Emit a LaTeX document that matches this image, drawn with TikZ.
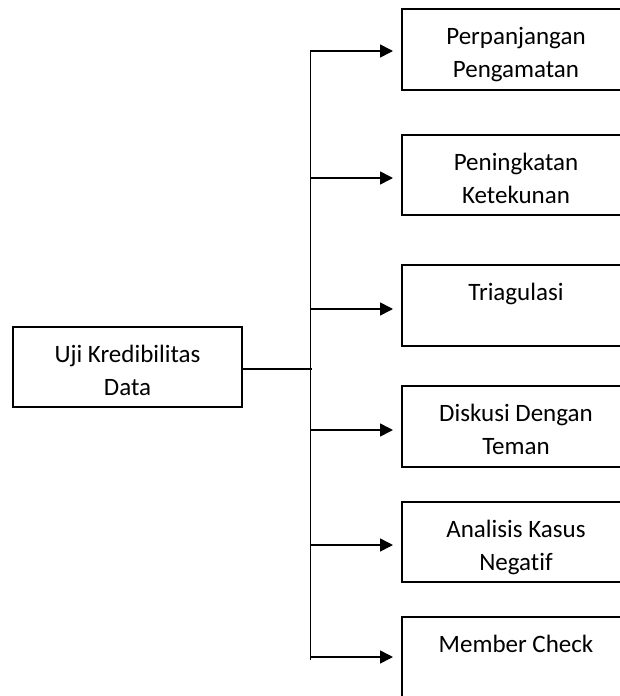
\documentclass[tikz,border=0pt]{standalone}
\usepackage{fontspec}
\setmainfont{Carlito}[Ligatures=NoCommon]
\usetikzlibrary{arrows.meta}
\newcommand\bxtext[3]{\begin{minipage}[c][#2][t]{#1}\centering\fontsize{25}{33}\selectfont\vspace*{12pt}\strut #3\end{minipage}}
\tikzset{
  boxnode/.style={draw, line width=1.6pt, inner sep=0pt, outer sep=0pt},
  conn/.style={line width=1.6pt},
  arr/.style={line width=1.6pt, -{Triangle[length=13pt,width=13pt]}, shorten >=9pt}
}
\begin{document}
\begin{tikzpicture}[x=1pt,y=-1pt]
\useasboundingbox (0,0) rectangle (620,696);
\clip (0,0) rectangle (620,696);
\fill[white] (0,0) rectangle (620,696);
\node[boxnode] (src) at (127.5,367) {\bxtext{229pt}{80pt}{Uji Kredibilitas\\Data}};
\node[boxnode] (b1) at (516,49.5) {\bxtext{228pt}{81pt}{Perpanjangan\\Pengamatan}};
\node[boxnode] (b2) at (516,175) {\bxtext{228pt}{80pt}{Peningkatan\\Ketekunan}};
\node[boxnode] (b3) at (516,305.5) {\bxtext{228pt}{81pt}{Triagulasi}};
\node[boxnode] (b4) at (516,426.5) {\bxtext{228pt}{81pt}{Diskusi Dengan\\Teman}};
\node[boxnode] (b5) at (516,542) {\bxtext{228pt}{80pt}{Analisis Kasus\\Negatif}};
\node[boxnode] (b6) at (516,657) {\bxtext{228pt}{80pt}{Member Check}};
\coordinate (t0) at (310.5,50.3);
\coordinate (t7) at (310.5,659.5);
\coordinate (a1) at (310.5,51);
\coordinate (a2) at (310.5,178);
\coordinate (a3) at (310.5,309);
\coordinate (a4) at (310.5,430);
\coordinate (a5) at (310.5,545);
\coordinate (a6) at (310.5,657);
\coordinate (j) at (311.5,369);
\draw[conn] (t0) -- (t7);
\draw[conn] (src.east |- j) -- (j);
\foreach \i in {1,...,6} {
  \draw[arr] (a\i) -- (a\i -| b\i.west);
}
\end{tikzpicture}
\end{document}
